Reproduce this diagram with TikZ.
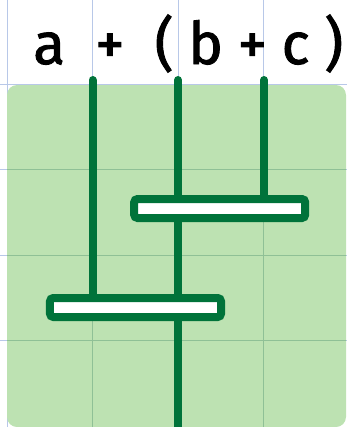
\documentclass[tikz,border=0pt]{standalone}
\usepackage{fontspec}
\usetikzlibrary{positioning, calc, backgrounds}
\newfontfamily\handfont[LetterSpace=25, FakeBold=1.5]{Fira Sans}
\definecolor{WireGreen}{RGB}{0, 115, 58}
\definecolor{PadGreen}{RGB}{189, 226, 178}
\definecolor{GridBlue}{RGB}{184, 200, 232}
\definecolor{GridGreen}{RGB}{143, 192, 150}
\tikzset{
  gridline/.style={line width=0.3mm, GridBlue},
  pad/.style={fill=PadGreen, rounded corners=3mm},
  wire/.style={line width=2.4mm, WireGreen, line cap=round},
  adder/.style={rectangle, rounded corners=1mm, draw=WireGreen, line width=2.4mm, fill=white,
    minimum width=51.3mm, minimum height=5.7mm, inner sep=0pt},
  expr/.style={font=\handfont\fontsize{50}{52}\selectfont, inner sep=0pt},
}
\begin{document}
\begin{tikzpicture}[x=0.3mm, y=-0.3mm]
    \useasboundingbox (0,0) rectangle (347,427);
    \node[expr, anchor=base west] (label) at (33,64) {a + (b+c)};
    \node[adder] (high) at (219.7,208.5) {};
    \node[adder] (low) at (135.5,307.5) {};
    % inputs and output
    \coordinate (ina) at (92.5,80);
    \coordinate (inb) at (178,80);
    \coordinate (inc) at (264,80);
    \coordinate (out) at (178,440);
    \begin{scope}[on background layer]
      % squared paper
      \foreach \gx in {7, 92.5, 178, 263.5} \draw[gridline] (\gx,0) -- (\gx,427);
      \foreach \gy in {84, 169.5, 255, 340.5} \draw[gridline] (0,\gy) -- (347,\gy);
      \fill[pad] (7,85) rectangle (346,427);
      \begin{scope}
        \clip[rounded corners=3mm] (7,85) rectangle (346,427);
        \foreach \gx in {92.5, 178, 263.5} \draw[gridline, GridGreen] (\gx,85) -- (\gx,427);
        \foreach \gy in {169.5, 255, 340.5} \draw[gridline, GridGreen] (7,\gy) -- (346,\gy);
      \end{scope}
      \draw[wire] (ina) -- (ina |- low.center);
      \draw[wire] (inc) -- (inc |- high.center);
      \draw[wire] (inb) -- (out);
    \end{scope}
\end{tikzpicture}
\end{document}
